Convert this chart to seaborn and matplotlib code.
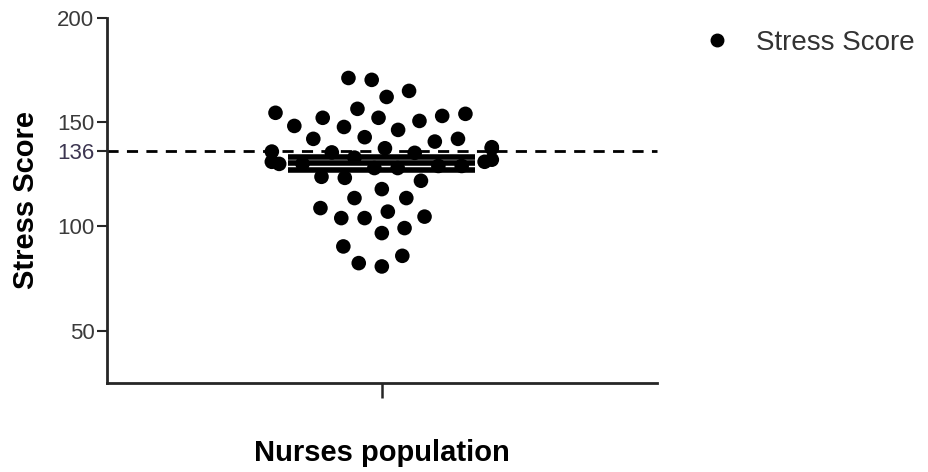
import numpy as np
import pandas as pd
import seaborn as sns
import matplotlib.pyplot as plt
from matplotlib.lines import Line2D


# stress scores, top of the swarm to the bottom
upper_scores = [170.3, 171.2, 162.1, 165.0, 156.4, 154.0, 152.1, 150.6, 147.7,
                146.3, 148.2, 152.1, 153.0, 154.5]
mid_scores = [142.0, 140.7, 138.0, 137.5, 137.5, 142.0, 142.8, 135.9, 135.3, 135.5]
band_scores = [133.0, 132.0, 131.0, 131.0, 130.0, 130.0, 129.0, 129.0, 128.0, 128.0]
low_scores = [123.8, 121.9, 123.3, 117.9, 113.6, 113.6, 107.1, 108.8, 104.0,
              104.0, 104.7, 99.2, 96.8, 90.4, 85.9, 80.8, 82.4]

group_name = "Nurses population"
series_name = "Stress Score"
cutoff = 136
y_ticks = [50, 100, 136, 150, 200]

scores = upper_scores + mid_scores + band_scores + low_scores
df = pd.DataFrame({"group": [group_name] * len(scores), "score": scores})

sns.set_style("ticks")
plt.rcParams["font.family"] = ["Liberation Sans", "DejaVu Sans"]

fig = plt.figure(figsize=(9.29, 4.72), dpi=100)
ax = fig.add_axes([0.115, 0.189, 0.592, 0.773])

# invisible wide edge keeps the swarm loose, like the reference
sns.swarmplot(data=df, x="group", y="score", color="black", size=10.5,
              edgecolor="none", linewidth=5.5, ax=ax, zorder=3)

# mean with SEM lines
m = np.mean(scores)
sem = np.std(scores, ddof=1) / np.sqrt(len(scores))
for v in [m, m - sem, m + sem]:
    ax.plot([-0.34, 0.34], [v, v], color="black", lw=4, zorder=4, solid_capstyle="butt")

ax.axhline(cutoff, color="black", lw=2, ls=(0, (4, 3)), zorder=2, clip_on=False)

ax.set_xlim(-1, 1)
ax.set_ylim(25, 200)
ax.set_yticks(y_ticks)
ax.set_yticklabels([str(t) for t in y_ticks])
ax.set_xticks([0])
ax.set_xticklabels([""])

ax.tick_params(axis="y", length=7, width=1.5, labelsize=16, labelcolor="#3a3a3a", pad=2)
ax.tick_params(axis="x", length=11, width=1.8)
for lab in ax.get_yticklabels():
    if lab.get_text() == str(cutoff):
        lab.set_color("#3c3550")

sns.despine(ax=ax)
for s in ["left", "bottom"]:
    ax.spines[s].set_linewidth(2)

ax.set_ylabel(series_name, fontsize=21, fontweight="bold", labelpad=12, color="black")
ax.set_xlabel(group_name, fontsize=21, fontweight="bold", labelpad=26, color="black")

handle = Line2D([], [], marker="o", color="black", ls="none", markersize=9)
fig.legend([handle], [series_name], loc="center left", bbox_to_anchor=(0.727, 0.909),
           frameon=False, fontsize=20, handletextpad=0.8, handlelength=1.2,
           labelcolor="#333333")

fig.savefig("out.png", dpi=100)
